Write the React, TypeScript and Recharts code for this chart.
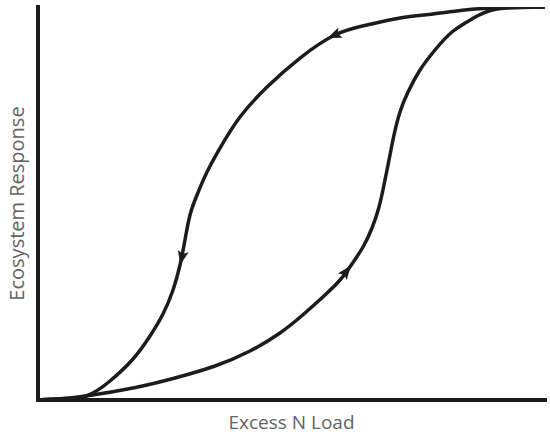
import { ComposedChart, Label, Line, Scatter, XAxis, YAxis } from 'recharts';

// forward path (increasing N load), x = load %, y = response %
const loadingX = [0, 4.3, 9.47, 18.74, 27.02, 34.91, 41.81, 47.73, 52.66, 56.61, 59.57, 61.93, 64.1, 65.88, 67.26, 68.24, 69.23, 70.22, 71.4, 72.98, 75.35, 78.3, 81.66, 85.6, 90.53, 100];
const loadingY = [0, 0.3, 1.02, 3.05, 5.6, 8.65, 12.47, 17.05, 22.14, 26.72, 30.53, 34.61, 38.93, 43.77, 49.11, 54.71, 61.07, 67.43, 73.28, 78.37, 83.97, 89.06, 93.64, 96.95, 99.49, 100];

// recovery path (decreasing N load)
const recoveryX = [0, 4.3, 9.47, 14.2, 18.74, 22.09, 24.65, 26.63, 28.01, 28.99, 29.98, 31.36, 33.33, 35.9, 39.84, 45.17, 51.68, 58.58, 64.89, 71.4, 77.91, 84.22, 90.14, 100];
const recoveryY = [0, 0.3, 1.02, 4.83, 10.43, 16.28, 21.88, 27.99, 34.35, 40.71, 47.07, 52.16, 58.02, 64.12, 72.01, 79.64, 87.02, 92.88, 95.42, 97.2, 98.22, 99.24, 99.75, 100];

// direction markers on the loop
const arrowX = [58.58, 28.4, 60.75];
const arrowY = [92.88, 36.4, 32.57];
const arrowAngle = [157, 102, -53];

const loading = loadingX.map((x, i) => ({ x, y: loadingY[i] }));
const recovery = recoveryX.map((x, i) => ({ x, y: recoveryY[i] }));
const arrows = arrowX.map((x, i) => ({ x, y: arrowY[i], angle: arrowAngle[i] }));

const INK = '#1c1c1c';
const TEXT = '#636363';
const FONT = '"Open Sans", sans-serif';

function ArrowHead(props: any) {
  const { cx, cy, payload } = props;
  if (cx == null || cy == null) return null;
  return (
    <path
      d="M 8 0 L -6 -5.5 L -3 0 L -6 5.5 Z"
      fill={INK}
      transform={`translate(${cx},${cy}) rotate(${payload.angle})`}
    />
  );
}

export default function App() {
  return (
    <div style={{ position: 'absolute', left: 0, top: 0, background: '#fff' }}>
      <ComposedChart width={550} height={438} margin={{ top: 7, right: 5, left: 0, bottom: 0 }}>
        <XAxis
          type="number"
          dataKey="x"
          domain={[0, 100]}
          allowDataOverflow
          tick={false}
          tickLine={false}
          height={38}
          axisLine={{ stroke: INK, strokeWidth: 4, strokeLinecap: 'square' }}
        >
          <Label
            value="Excess N Load"
            position="insideBottom"
            offset={9}
            style={{ fill: TEXT, fontFamily: FONT, fontSize: 19 }}
          />
        </XAxis>
        <YAxis
          type="number"
          dataKey="y"
          domain={[0, 100]}
          allowDataOverflow
          tick={false}
          tickLine={false}
          width={38}
          axisLine={{ stroke: INK, strokeWidth: 4, strokeLinecap: 'square' }}
        >
          <Label
            value="Ecosystem Response"
            angle={-90}
            position="insideLeft"
            offset={17}
            style={{ fill: TEXT, fontFamily: FONT, fontSize: 20, textAnchor: 'middle' }}
          />
        </YAxis>
        <Line
          data={loading}
          dataKey="y"
          type="natural"
          stroke={INK}
          strokeWidth={3.5}
          dot={false}
          activeDot={false}
          isAnimationActive={false}
        />
        <Line
          data={recovery}
          dataKey="y"
          type="natural"
          stroke={INK}
          strokeWidth={3.5}
          dot={false}
          activeDot={false}
          isAnimationActive={false}
        />
        <Scatter data={arrows} dataKey="y" shape={ArrowHead} isAnimationActive={false} />
      </ComposedChart>
    </div>
  );
}
